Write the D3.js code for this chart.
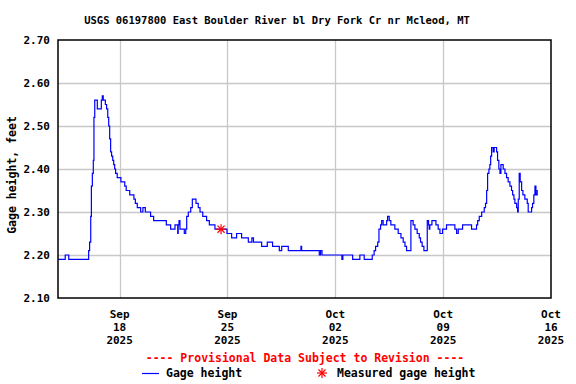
<!DOCTYPE html>
<html lang="en">
  <head>
    <meta charset="UTF-8" />
    <title>East Boulder River gage height</title>
    <style>
      body { margin: 0; background: #fff; }
      text { font-family: "DejaVu Sans Mono", monospace; font-weight: bold; }
    </style>
  </head>
  <body>
    <div class="chart"></div>
    <script src="https://d3js.org/d3.v7.min.js"></script>
    <script>
      const title = "USGS 06197800 East Boulder River bl Dry Fork Cr nr Mcleod, MT";

      const gageHeight = [
        ["2025-09-14 00:00", 2.19], ["2025-09-14 11:15", 2.2], ["2025-09-14 16:45", 2.19],
        ["2025-09-15 23:45", 2.21], ["2025-09-16 01:15", 2.23], ["2025-09-16 03:00", 2.29],
        ["2025-09-16 04:00", 2.36], ["2025-09-16 05:30", 2.39], ["2025-09-16 07:00", 2.42],
        ["2025-09-16 08:00", 2.52], ["2025-09-16 09:15", 2.56], ["2025-09-16 13:15", 2.54],
        ["2025-09-16 19:30", 2.56], ["2025-09-16 21:00", 2.57], ["2025-09-16 22:30", 2.56],
        ["2025-09-17 01:45", 2.55], ["2025-09-17 03:45", 2.54], ["2025-09-17 05:30", 2.52],
        ["2025-09-17 07:00", 2.5], ["2025-09-17 08:30", 2.47], ["2025-09-17 10:00", 2.44],
        ["2025-09-17 11:30", 2.43], ["2025-09-17 13:15", 2.42], ["2025-09-17 14:45", 2.41],
        ["2025-09-17 16:15", 2.4], ["2025-09-17 17:45", 2.39], ["2025-09-17 20:15", 2.38],
        ["2025-09-18 02:00", 2.37], ["2025-09-18 08:00", 2.36], ["2025-09-18 10:15", 2.35],
        ["2025-09-18 15:45", 2.34], ["2025-09-18 22:15", 2.33], ["2025-09-19 00:30", 2.32],
        ["2025-09-19 03:30", 2.31], ["2025-09-19 08:45", 2.3], ["2025-09-19 12:15", 2.31],
        ["2025-09-19 16:00", 2.3], ["2025-09-20 00:15", 2.29], ["2025-09-20 05:00", 2.28],
        ["2025-09-21 00:45", 2.27], ["2025-09-21 07:30", 2.26], ["2025-09-21 14:15", 2.27],
        ["2025-09-21 18:30", 2.25], ["2025-09-21 19:15", 2.27], ["2025-09-21 20:30", 2.28],
        ["2025-09-21 22:00", 2.26], ["2025-09-22 04:45", 2.25], ["2025-09-22 07:00", 2.26],
        ["2025-09-22 08:30", 2.29], ["2025-09-22 11:00", 2.3], ["2025-09-22 14:45", 2.31],
        ["2025-09-22 17:15", 2.33], ["2025-09-22 23:00", 2.32], ["2025-09-23 02:30", 2.31],
        ["2025-09-23 05:15", 2.3], ["2025-09-23 09:30", 2.29], ["2025-09-23 15:30", 2.28],
        ["2025-09-23 19:45", 2.27], ["2025-09-24 04:30", 2.26], ["2025-09-24 23:15", 2.25],
        ["2025-09-25 06:30", 2.24], ["2025-09-25 14:15", 2.25], ["2025-09-25 22:00", 2.24],
        ["2025-09-26 08:30", 2.23], ["2025-09-26 14:00", 2.24], ["2025-09-26 16:30", 2.23],
        ["2025-09-27 05:15", 2.22], ["2025-09-27 14:00", 2.23], ["2025-09-27 22:15", 2.22],
        ["2025-09-28 08:45", 2.21], ["2025-09-28 12:30", 2.22], ["2025-09-28 22:45", 2.21],
        ["2025-09-29 18:30", 2.22], ["2025-09-29 19:30", 2.21], ["2025-09-30 23:00", 2.2],
        ["2025-10-01 01:00", 2.21], ["2025-10-01 03:15", 2.2], ["2025-10-02 10:15", 2.19],
        ["2025-10-02 11:45", 2.2], ["2025-10-03 03:00", 2.19], ["2025-10-03 14:15", 2.2],
        ["2025-10-03 21:00", 2.19], ["2025-10-04 09:30", 2.2], ["2025-10-04 12:30", 2.21],
        ["2025-10-04 14:45", 2.22], ["2025-10-04 18:00", 2.23], ["2025-10-04 20:00", 2.26],
        ["2025-10-04 22:30", 2.27], ["2025-10-05 00:15", 2.28], ["2025-10-05 02:30", 2.27],
        ["2025-10-05 08:00", 2.28], ["2025-10-05 09:30", 2.29], ["2025-10-05 12:00", 2.28],
        ["2025-10-05 14:30", 2.27], ["2025-10-05 20:45", 2.26], ["2025-10-06 02:00", 2.25],
        ["2025-10-06 06:15", 2.24], ["2025-10-06 09:45", 2.23], ["2025-10-06 12:30", 2.22],
        ["2025-10-06 15:00", 2.21], ["2025-10-06 21:45", 2.28], ["2025-10-07 01:15", 2.27],
        ["2025-10-07 04:00", 2.26], ["2025-10-07 07:30", 2.25], ["2025-10-07 10:45", 2.24],
        ["2025-10-07 12:45", 2.23], ["2025-10-07 15:15", 2.22], ["2025-10-07 18:00", 2.21],
        ["2025-10-07 23:15", 2.28], ["2025-10-08 01:15", 2.27], ["2025-10-08 02:15", 2.26],
        ["2025-10-08 03:15", 2.27], ["2025-10-08 06:30", 2.28], ["2025-10-08 12:45", 2.27],
        ["2025-10-08 16:15", 2.26], ["2025-10-08 19:00", 2.25], ["2025-10-08 23:00", 2.26],
        ["2025-10-09 05:15", 2.27], ["2025-10-09 18:15", 2.26], ["2025-10-09 21:00", 2.25],
        ["2025-10-09 23:30", 2.26], ["2025-10-10 06:15", 2.27], ["2025-10-10 20:15", 2.26],
        ["2025-10-11 04:00", 2.27], ["2025-10-11 05:45", 2.28], ["2025-10-11 08:15", 2.29],
        ["2025-10-11 12:00", 2.3], ["2025-10-11 16:00", 2.31], ["2025-10-11 18:00", 2.32],
        ["2025-10-11 19:45", 2.35], ["2025-10-11 21:15", 2.39], ["2025-10-11 23:15", 2.4],
        ["2025-10-12 00:45", 2.41], ["2025-10-12 02:00", 2.43], ["2025-10-12 03:30", 2.45],
        ["2025-10-12 06:00", 2.44], ["2025-10-12 07:30", 2.45], ["2025-10-12 11:15", 2.44],
        ["2025-10-12 12:45", 2.42], ["2025-10-12 14:45", 2.4], ["2025-10-12 16:30", 2.39],
        ["2025-10-12 18:00", 2.41], ["2025-10-12 21:30", 2.4], ["2025-10-13 00:15", 2.39],
        ["2025-10-13 02:45", 2.38], ["2025-10-13 05:15", 2.37], ["2025-10-13 08:00", 2.36],
        ["2025-10-13 10:30", 2.35], ["2025-10-13 12:15", 2.34], ["2025-10-13 14:15", 2.33],
        ["2025-10-13 15:45", 2.32], ["2025-10-13 18:30", 2.31], ["2025-10-13 20:00", 2.3],
        ["2025-10-13 21:00", 2.33], ["2025-10-13 22:30", 2.39], ["2025-10-14 00:00", 2.37],
        ["2025-10-14 02:15", 2.35], ["2025-10-14 04:15", 2.34], ["2025-10-14 07:15", 2.33],
        ["2025-10-14 11:00", 2.32], ["2025-10-14 12:30", 2.3], ["2025-10-14 17:45", 2.31],
        ["2025-10-14 19:15", 2.32], ["2025-10-14 21:15", 2.34], ["2025-10-14 23:00", 2.36],
        ["2025-10-15 00:30", 2.34], ["2025-10-15 02:30", 2.35], ["2025-10-15 03:30", 2.35],
      ];

      // field measurement
      const measured = [["2025-09-24 14:00", 2.26]];

      const yTicks = [2.1, 2.2, 2.3, 2.4, 2.5, 2.6, 2.7];
      const xTicks = ["2025-09-18", "2025-09-25", "2025-10-02", "2025-10-09", "2025-10-16"];
      const xStart = "2025-09-14";
      const xEnd = "2025-10-16";

      const parseTime = d3.timeParse("%Y-%m-%d %H:%M");
      const parseDay = d3.timeParse("%Y-%m-%d");

      const width = 576;
      const height = 384;
      const margin = { top: 40, right: 25, bottom: 86, left: 58 };

      const svg = d3
        .select(".chart")
        .append("svg")
        .attr("width", width)
        .attr("height", height);

      const x = d3
        .scaleTime()
        .domain([parseDay(xStart), parseDay(xEnd)])
        .range([margin.left, width - margin.right]);

      const y = d3
        .scaleLinear()
        .domain([2.1, 2.7])
        .range([height - margin.bottom, margin.top]);

      // 格線
      svg
        .append("g")
        .selectAll("line")
        .data(yTicks.slice(1, -1))
        .join("line")
        .attr("x1", margin.left)
        .attr("x2", width - margin.right)
        .attr("y1", (d) => Math.round(y(d)) + 0.5)
        .attr("y2", (d) => Math.round(y(d)) + 0.5)
        .attr("stroke", "#c8c8c8")
        .attr("stroke-width", 1.3);

      svg
        .append("g")
        .selectAll("line")
        .data(xTicks.slice(0, -1))
        .join("line")
        .attr("x1", (d) => Math.round(x(parseDay(d))) + 0.5)
        .attr("x2", (d) => Math.round(x(parseDay(d))) + 0.5)
        .attr("y1", margin.top)
        .attr("y2", height - margin.bottom)
        .attr("stroke", "#c8c8c8")
        .attr("stroke-width", 1.3);

      // 水位線
      const line = d3
        .line()
        .x((d) => x(parseTime(d[0])))
        .y((d) => y(d[1]))
        .curve(d3.curveStepAfter);

      svg
        .append("path")
        .datum(gageHeight)
        .attr("d", line)
        .attr("fill", "none")
        .attr("stroke", "#0000ff")
        .attr("stroke-width", 1.2);

      // 實測點 (asterisk)
      function asterisk(g, r) {
        for (let a = 0; a < 180; a += 45) {
          const rad = (a * Math.PI) / 180;
          g.append("line")
            .attr("x1", -r * Math.cos(rad))
            .attr("y1", -r * Math.sin(rad))
            .attr("x2", r * Math.cos(rad))
            .attr("y2", r * Math.sin(rad))
            .attr("stroke", "#ff0000")
            .attr("stroke-width", 1.2);
        }
      }

      svg
        .append("g")
        .selectAll("g")
        .data(measured)
        .join("g")
        .attr("transform", (d) => `translate(${x(parseTime(d[0]))},${y(d[1])})`)
        .each(function () {
          asterisk(d3.select(this), 5);
        });

      // 外框
      svg
        .append("rect")
        .attr("x", margin.left)
        .attr("y", margin.top)
        .attr("width", width - margin.left - margin.right)
        .attr("height", height - margin.top - margin.bottom)
        .attr("fill", "none")
        .attr("stroke", "#000")
        .attr("stroke-width", 1.5);

      // y 軸
      const yAxis = d3
        .axisLeft(y)
        .tickValues(yTicks)
        .tickFormat(d3.format(".2f"))
        .tickSize(0)
        .tickPadding(8);

      svg
        .append("g")
        .attr("transform", `translate(${margin.left},0)`)
        .call(yAxis)
        .call((g) => g.select(".domain").remove())
        .selectAll("text")
        .attr("font-family", "DejaVu Sans Mono")
        .attr("font-weight", "bold")
        .attr("font-size", 11)
        .attr("fill", "#000");

      svg
        .append("text")
        .attr("transform", `translate(16,175) rotate(-90)`)
        .attr("text-anchor", "middle")
        .attr("font-size", 11.5)
        .text("Gage height, feet");

      // x 軸 (three lines)
      const fmtMon = d3.timeFormat("%b");
      const fmtDay = d3.timeFormat("%d");
      const fmtYear = d3.timeFormat("%Y");

      const xLabels = svg
        .append("g")
        .selectAll("text")
        .data(xTicks)
        .join("text")
        .attr("text-anchor", "middle")
        .attr("font-size", 11)
        .attr("x", (d) => x(parseDay(d)));

      xLabels.append("tspan").attr("y", 318).text((d) => fmtMon(parseDay(d)));
      xLabels
        .append("tspan")
        .attr("x", (d) => x(parseDay(d)))
        .attr("y", 331)
        .text((d) => fmtDay(parseDay(d)));
      xLabels
        .append("tspan")
        .attr("x", (d) => x(parseDay(d)))
        .attr("y", 344)
        .text((d) => fmtYear(parseDay(d)));

      // 標題
      svg
        .append("text")
        .attr("x", 277)
        .attr("y", 24)
        .attr("text-anchor", "middle")
        .attr("font-size", 10.5)
        .text(title);

      // 圖例
      svg
        .append("text")
        .attr("x", 305)
        .attr("y", 362)
        .attr("text-anchor", "middle")
        .attr("font-size", 11.5)
        .attr("fill", "#ff0000")
        .text("---- Provisional Data Subject to Revision ----");

      svg
        .append("line")
        .attr("x1", 142)
        .attr("x2", 159)
        .attr("y1", 373.5)
        .attr("y2", 373.5)
        .attr("stroke", "#0000ff")
        .attr("stroke-width", 1.2);

      svg
        .append("text")
        .attr("x", 166)
        .attr("y", 377)
        .attr("font-size", 11.5)
        .text("Gage height");

      const legendStar = svg.append("g").attr("transform", "translate(322,373)");
      asterisk(legendStar, 5);

      svg
        .append("text")
        .attr("x", 337)
        .attr("y", 377)
        .attr("font-size", 11.5)
        .text("Measured gage height");
    </script>
  </body>
</html>
